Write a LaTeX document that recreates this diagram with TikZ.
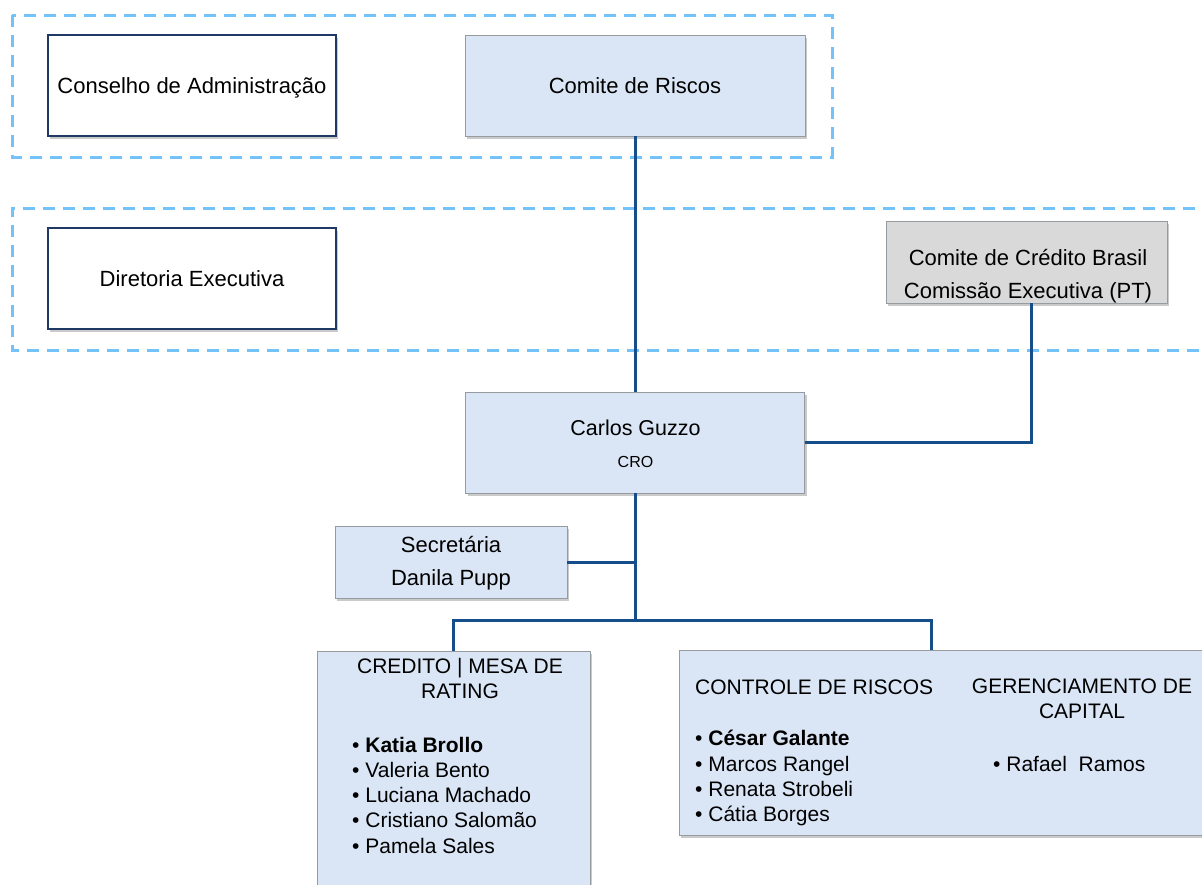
\documentclass[tikz,border=0pt]{standalone}
\usepackage{fontspec}
\setmainfont{Liberation Sans}
\usetikzlibrary{shadows}
\definecolor{boxblue}{RGB}{218,230,245}
\definecolor{boxgray}{RGB}{217,217,217}
\definecolor{navy}{RGB}{32,56,100}
\definecolor{conncol}{RGB}{22,78,140}
\definecolor{dashcol}{RGB}{115,195,250}
\definecolor{edgegray}{RGB}{150,155,160}
\tikzset{
  x=1pt, y=-1pt,
  base/.style={rectangle, inner sep=0pt, drop shadow={shadow xshift=2pt, shadow yshift=-3pt, opacity=0.35, fill=black!60}},
  whitebox/.style={base, fill=white, draw=navy, line width=1.8pt},
  bluebox/.style={base, fill=boxblue, draw=edgegray, line width=0.9pt},
  graybox/.style={base, fill=boxgray, draw=edgegray, line width=0.9pt},
  conn/.style={draw=conncol, line width=3pt},
  dashframe/.style={draw=dashcol, line width=3pt, dash pattern=on 12pt off 8pt},
  txt/.style={inner sep=0pt, yshift=-4pt, text height=0.72em, text depth=0pt, font=\fontsize{22}{26}\selectfont},
  lst/.style={txt, anchor=west, font=\fontsize{21}{25}\selectfont},
}
\begin{document}
\begin{tikzpicture}
\useasboundingbox (0,0) rectangle (1202,884);
% dashed frames
\draw[dashframe] (12,15) rectangle (832,157);
\draw[dashframe] (1215,208) -- (12,208) -- (12,350) -- (1215,350);
% boxes
\node[whitebox, minimum width=288pt, minimum height=101pt] (conselho) at (192,85.5) {};
\node[bluebox, minimum width=340pt, minimum height=101pt] (riscos) at (635,85.5) {};
\node[whitebox, minimum width=288pt, minimum height=101pt] (diretoria) at (192,278.5) {};
\node[graybox, minimum width=281pt, minimum height=82pt] (ccb) at (1026.5,262) {};
\node[bluebox, minimum width=339pt, minimum height=101pt] (carlos) at (635,442.5) {};
\node[bluebox, minimum width=232pt, minimum height=72pt] (sec) at (451,562) {};
\begin{scope}
\clip (0,0) rectangle (1202,884);
\node[bluebox, minimum width=273pt, minimum height=245pt] (cred) at (453.5,773.5) {};
\node[bluebox, minimum width=530pt, minimum height=185pt] (ctrl) at (944,742.5) {};
\end{scope}
% connectors
\coordinate (jccb) at (1031,443);
\coordinate (hub) at (635,620);
\coordinate (ctop) at (931,650);
\draw[conn] (riscos.south) -- (carlos.north);
\draw[conn] (carlos.east) -- (carlos.east -| jccb) -- (jccb |- ccb.south);
\draw[conn] (carlos.south) -- (hub);
\draw[conn] (sec.east) -- (sec.east -| hub);
\draw[conn] (cred.north) |- (hub) -| (ctop);
% texts
\node[txt] (t-conselho) at (conselho.center) {Conselho de Administração};
\node[txt] (t-riscos) at (riscos.center) {Comite de Riscos};
\node[txt] (t-diretoria) at (diretoria.center) {Diretoria Executiva};
\node[txt] (t-ccb1) at (1028,258) {Comite de Crédito Brasil};
\node[txt] (t-ccb2) at (1028,291) {Comissão Executiva (PT)};
\node[txt, font=\fontsize{21.5}{26}\selectfont] (t-carlos) at (635.5,428) {Carlos Guzzo};
\node[txt, font=\fontsize{16}{20}\selectfont] (t-cro) at (635.5,460) {CRO};
\node[txt] (t-sec1) at (451,545) {Secretária};
\node[txt] (t-sec2) at (451,578) {Danila Pupp};
\node[txt, font=\fontsize{21}{25}\selectfont] (t-cred1) at (460,666) {CREDITO | MESA DE};
\node[txt, font=\fontsize{21}{25}\selectfont] (t-cred2) at (460,691) {RATING};
\node[lst] (k1) at (352,745) {• \textbf{Katia Brollo}};
\node[lst] (k2) at (352,770) {• Valeria Bento};
\node[lst] (k3) at (352,795) {• Luciana Machado};
\node[lst] (k4) at (352,820) {• Cristiano Salomão};
\node[lst] (k5) at (352,846) {• Pamela Sales};
\node[lst] (t-ctrl) at (695,687) {CONTROLE DE RISCOS};
\node[lst] (c1) at (695,738) {• \textbf{César Galante}};
\node[lst] (c2) at (695,764) {• Marcos Rangel};
\node[lst] (c3) at (695,789) {• Renata Strobeli};
\node[lst] (c4) at (695,814) {• Cátia Borges};
\node[txt, font=\fontsize{21}{25}\selectfont] (t-ger1) at (1082,686) {GERENCIAMENTO DE};
\node[txt, font=\fontsize{21}{25}\selectfont] (t-ger2) at (1082,711) {CAPITAL};
\node[lst] (r1) at (993,764) {• Rafael\ \ Ramos};
\end{tikzpicture}
\end{document}
